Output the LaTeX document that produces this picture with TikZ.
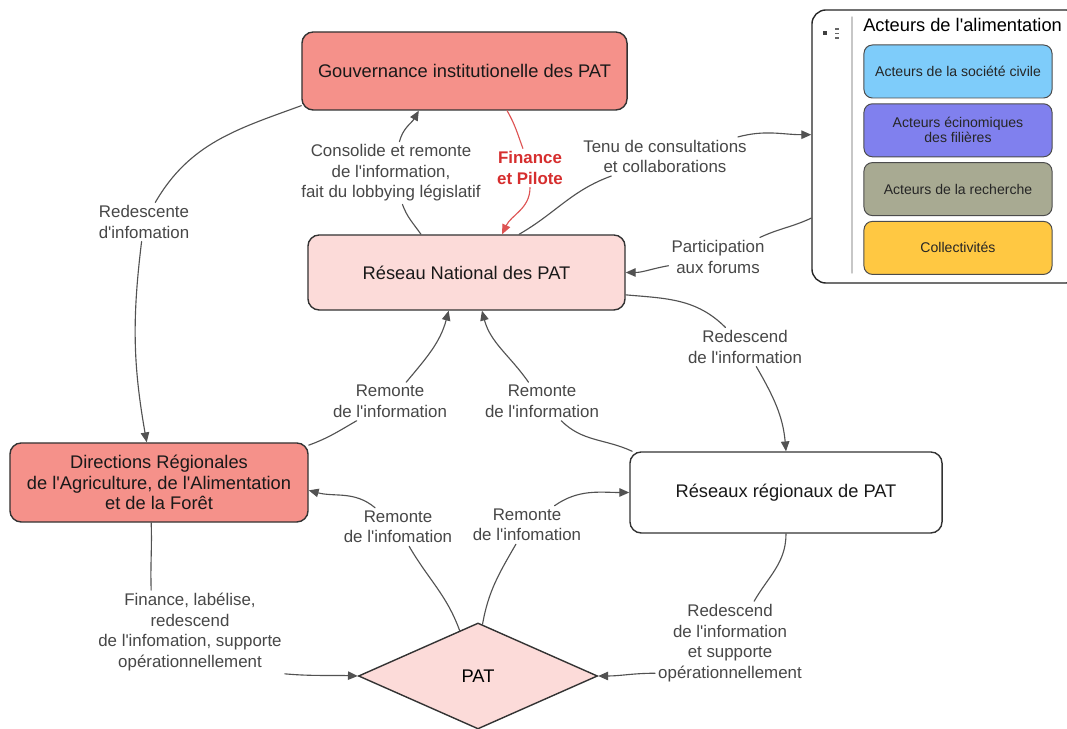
\documentclass[tikz,border=0pt]{standalone}
\usepackage{fontspec}
\setmainfont{Liberation Sans}[Ligatures=TeXOff]
\usetikzlibrary{arrows.meta,shapes.geometric,positioning}
\definecolor{salmon}{RGB}{245,145,138}
\definecolor{blush}{RGB}{252,219,217}
\definecolor{pilotred}{RGB}{214,46,46}
\definecolor{pilotline}{RGB}{222,84,84}
\definecolor{civblue}{RGB}{126,204,250}
\definecolor{ecoviolet}{RGB}{128,128,238}
\definecolor{rechgray}{RGB}{168,170,146}
\definecolor{collyellow}{RGB}{255,200,66}

\begin{document}
\begin{tikzpicture}[x=0.025cm,y=0.025cm,>={Triangle[length=7pt,width=6pt]},line cap=round,
  box/.style={draw=black!80,line width=1pt,rounded corners=8pt,align=center,text=black!90,font=\fontsize{13}{14.6}\selectfont},
  lbl/.style={fill=white,inner sep=2pt,align=center,text=black!72,font=\fontsize{12}{14.6}\selectfont},
  link/.style={draw=black!68,line width=0.8pt},
  member/.style={draw=black!70,line width=0.7pt,rounded corners=6pt,minimum width=4.7cm,minimum height=1.325cm,align=center,text=black!85,font=\fontsize{10}{10.7}\selectfont}]
\useasboundingbox (0,0) rectangle (1067,729);
\fill[white] (0,0) rectangle (1067,729);

\node[box,fill=salmon,minimum width=8.125cm,minimum height=1.95cm] (gouv) at (464.5,658) {Gouvernance institutionelle des PAT};
\node[box,fill=blush,minimum width=7.925cm,minimum height=1.875cm] (rn) at (466.5,456.5) {Réseau National des PAT};
\node[box,fill=salmon,minimum width=7.45cm,minimum height=1.975cm] (dir) at (159,246.5) {Directions Régionales\\de l'Agriculture, de l'Alimentation\\et de la Forêt};
\node[box,fill=white,minimum width=7.8cm,minimum height=2.025cm] (rr) at (786,236.5) {Réseaux régionaux de PAT};
\node[diamond,draw=black!80,line width=1pt,fill=blush,minimum width=5.975cm,minimum height=2.65cm,inner sep=0pt,font=\fontsize{13}{14.6}\selectfont] (pat) at (478,53) {PAT};

\node[draw=black!85,line width=1pt,rounded corners=10pt,fill=white,minimum width=6.7cm,minimum height=6.825cm] (acteurs) at (946,582.5) {};
\draw[black!22,line width=1pt] (852,712) -- (852,456);
\fill[black!75] (823,694) rectangle (827,698);
\foreach \yy in {691,695.5,700}
  \fill[black!60] (834.5,\yy-0.8) rectangle (838.5,\yy+0.8);
\node[anchor=west,inner sep=0pt,font=\fontsize{13}{14.6}\selectfont] (titre) at (863,704) {Acteurs de l'alimentation};
\node[member,fill=civblue] (civile) at (958,657.5) {Acteurs de la société civile};
\node[member,fill=ecoviolet,below=0.12cm of civile] (filieres) {Acteurs écinomiques\\des filières};
\node[member,fill=rechgray,below=0.12cm of filieres] (recherche) {Acteurs de la recherche};
\node[member,fill=collyellow,below=0.12cm of recherche] (collect) {Collectivités};

\node[lbl] (lRedesc) at (144,507) {Redescente\\d'infomation};
\node[lbl] (lConsol) at (391,556) {Consolide et remonte\\de l'information,\\fait du lobbying législatif};
\node[lbl,text=pilotred,font=\fontsize{12}{14.6}\selectfont\bfseries] (lPilote) at (530,561) {Finance\\et Pilote};
\node[lbl] (lTenu) at (665,572.5) {Tenu de consultations\\et collaborations};
\node[lbl] (lForum) at (718,472) {Participation\\aux forums};
\node[lbl] (lDescRR) at (745,382) {Redescend\\de l'information};
\node[lbl] (lRemDir) at (390,327.5) {Remonte\\de l'information};
\node[lbl] (lRemRR) at (542,327.5) {Remonte\\de l'information};
\node[lbl] (lRemPD) at (398,202) {Remonte\\de l'infomation};
\node[lbl] (lRemPR) at (527,204) {Remonte\\de l'infomation};
\node[lbl] (lFinDir) at (190,97) {Finance, labélise,\\redescend\\de l'infomation, supporte\\opérationnellement};
\node[lbl] (lDescPAT) at (730,86) {Redescend\\de l'information\\et supporte\\opérationnellement};

\draw[link,->] (gouv.192) to[out=200,in=60] (lRedesc) to[out=-97,in=100] (dir.107);
\draw[link,->] (rn.140) to[out=125,in=-70] (lConsol) to[out=75,in=-120] (gouv.221);
\draw[link,draw=pilotline,->] (gouv.317) to[out=-60,in=110] (lPilote) to[out=-90,in=65] (rn.47);
\draw[link,->] (rn.36) to[out=30,in=200] (lTenu) to[out=15,in=180] (acteurs.175);
\draw[link,->] (acteurs.208) to[out=205,in=25] (lForum) to[out=190,in=0] (rn.east);
\draw[link,->] (rn.352) to[out=-5,in=135] (lDescRR) to[out=-60,in=95] (rr.north);
\draw[link,->] (dir.14) to[out=20,in=210] (lRemDir) to[out=50,in=-105] (rn.245);
\draw[link,->] (rr.165) to[out=155,in=-45] (lRemRR) to[out=125,in=-75] (rn.292);
\draw[link,->] (pat.112) to[out=110,in=-60] (lRemPD) to[out=140,in=-15] (dir.357);
\draw[link,->] (pat.85) to[out=80,in=-120] (lRemPR) to[out=35,in=180] (rr.west);
\draw[link,->] (dir.259) to[out=-88,in=92] (lFinDir.north -| dir.259) (lFinDir.south east) to[out=-5,in=178] (pat.west);
\draw[link,->] (rr.south) to[out=-90,in=60] (lDescPAT) (lDescPAT.202) to[out=180,in=0] (pat.east);
\end{tikzpicture}
\end{document}
